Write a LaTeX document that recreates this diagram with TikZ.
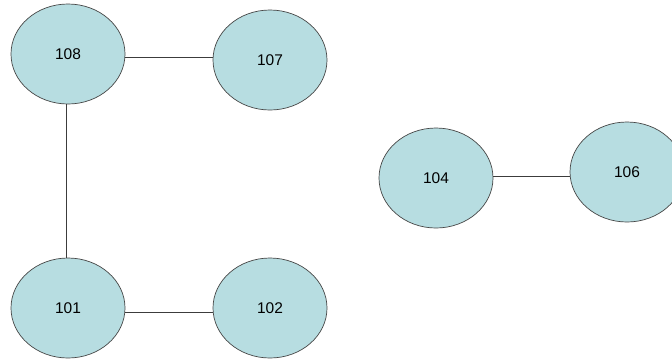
\documentclass[tikz,border=0pt]{standalone}
\usepackage{fontspec}
\setmainfont{Liberation Sans}
\usetikzlibrary{shapes.geometric}
\definecolor{nodefill}{RGB}{183,221,225}
\definecolor{nodeline}{RGB}{70,70,70}
\definecolor{edgeline}{RGB}{60,60,60}
\tikzset{
  host/.style={ellipse, draw=nodeline, line width=0.7pt, fill=nodefill,
    minimum width=114pt, minimum height=100pt, inner sep=0pt,
    font=\fontsize{15.5}{18}\selectfont},
  link/.style={draw=edgeline, line width=0.8pt}
}
\begin{document}
\begin{tikzpicture}[x=1pt, y=-1pt]
  \useasboundingbox (0,0) rectangle (672,360);
  \clip (0,0) rectangle (672,360);
  \fill[white] (0,0) rectangle (672,360);

  % left group
  \node[host] (n108) at (68,54)  {108};
  \node[host] (n107) at (270,60) {107};
  \node[host] (n101) at (68,308) {101};
  \node[host] (n102) at (270,308) {102};

  % right group
  \node[host] (n104) at (436,178) {104};
  \node[host] (n106) at (627,172) {106};

  \draw[link] ([yshift=-3pt]n108.east) -- ([yshift=-3pt]n108.east -| n107.west);
  \draw[link] ([xshift=-2pt]n108.south) -- ([xshift=-2pt]n101.north);
  \draw[link] ([yshift=-4pt]n101.east) -- ([yshift=-4pt]n101.east -| n102.west);
  \draw[link] ([yshift=2pt]n104.east) -- ([yshift=2pt]n104.east -| n106.west);
\end{tikzpicture}
\end{document}
